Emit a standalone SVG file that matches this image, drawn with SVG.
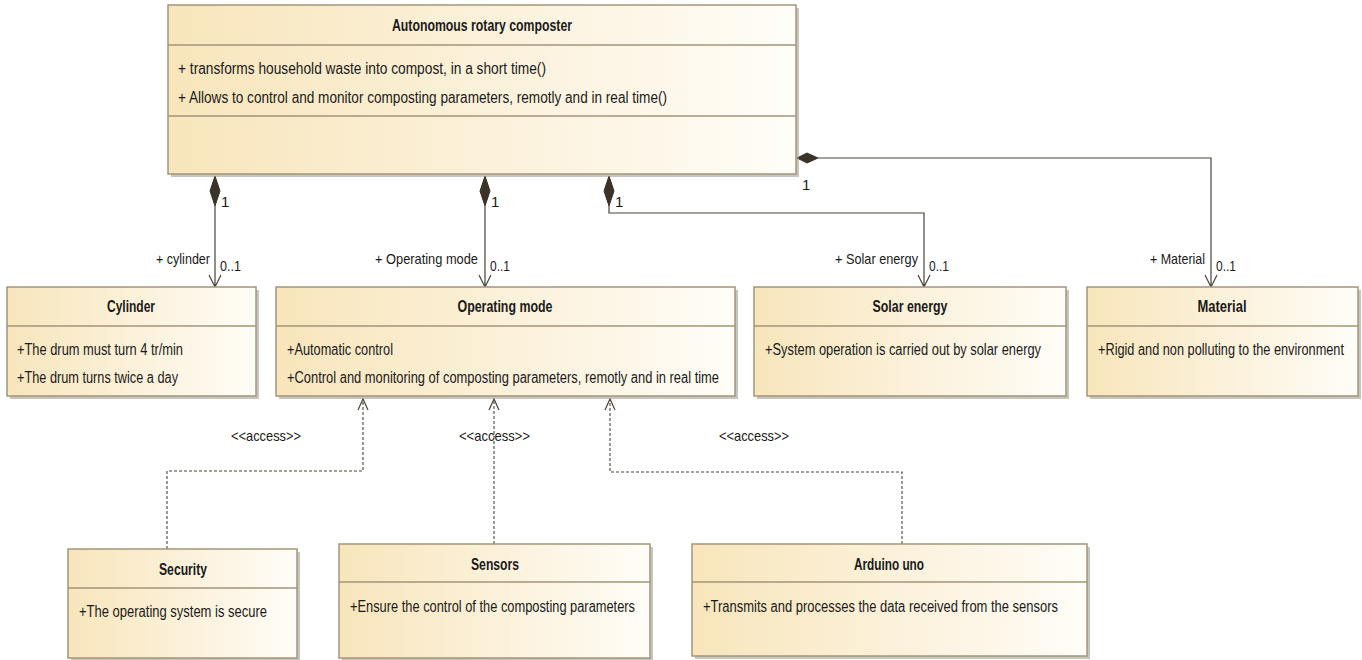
<svg xmlns="http://www.w3.org/2000/svg" width="1362" height="660" viewBox="0 0 1362 660">
<style>
text{font-family:"Liberation Sans Narrow","Liberation Sans",Arial,sans-serif;fill:#1a1a1a;font-size:16px}
.t{font-weight:bold;text-anchor:middle}
.box{fill:url(#g);stroke:#a3957a;stroke-width:1.5}
.sh{fill:#9a9488;opacity:0.55}
.div{stroke:#a3957a;stroke-width:1.5}
.ln{fill:none;stroke:#4a4337;stroke-width:1.2}
.dl{fill:none;stroke:#4a4337;stroke-width:1.1;stroke-dasharray:3,2}
.dia{fill:#3b3327;stroke:#3b3327}
.lbl{font-size:15px}
</style>
<defs>
<linearGradient id="g" x1="0" y1="0" x2="1" y2="0">
<stop offset="0" stop-color="#f8e5bb"/>
<stop offset="1" stop-color="#fffdf8"/>
</linearGradient>
</defs>
<rect width="1362" height="660" fill="#ffffff"/>

<g id="connectors">
<path class="ln" d="M215,206 V287 M209,275 L215,287 L221,275"/>
<path class="dia" d="M215,176 L220,191 L215,206 L210,191 Z"/>
<path class="ln" d="M485,206 V287 M479,275 L485,287 L491,275"/>
<path class="dia" d="M485,176 L490,191 L485,206 L480,191 Z"/>
<path class="ln" d="M609,206 V213 H924 V287 M918,275 L924,287 L930,275"/>
<path class="dia" d="M609,176 L614,191 L609,206 L604,191 Z"/>
<path class="ln" d="M818,158 H1211 V287 M1205,275 L1211,287 L1217,275"/>
<path class="dia" d="M797,158 L807,153 L818,158 L807,163 Z"/>
<path class="dl" d="M167,549 V471 H363 V399"/>
<path class="ln" d="M358,410 L363,399 L368,410"/>
<path class="dl" d="M494,544 V399"/>
<path class="ln" d="M489,410 L494,399 L499,410"/>
<path class="dl" d="M902,544 V472 H610 V399"/>
<path class="ln" d="M605,410 L610,399 L615,410"/>
<text class="lbl" x="221" y="207">1</text>
<text class="lbl" x="156" y="264" textLength="54" lengthAdjust="spacingAndGlyphs">+ cylinder</text>
<text class="lbl" x="220" y="271" textLength="21" lengthAdjust="spacingAndGlyphs">0..1</text>
<text class="lbl" x="491" y="207">1</text>
<text class="lbl" x="375" y="264" textLength="103" lengthAdjust="spacingAndGlyphs">+ Operating mode</text>
<text class="lbl" x="490" y="271" textLength="20" lengthAdjust="spacingAndGlyphs">0..1</text>
<text class="lbl" x="615" y="207">1</text>
<text class="lbl" x="835" y="264" textLength="83" lengthAdjust="spacingAndGlyphs">+ Solar energy</text>
<text class="lbl" x="929" y="271" textLength="20" lengthAdjust="spacingAndGlyphs">0..1</text>
<text class="lbl" x="802" y="190">1</text>
<text class="lbl" x="1150" y="264" textLength="55" lengthAdjust="spacingAndGlyphs">+ Material</text>
<text class="lbl" x="1216" y="271" textLength="20" lengthAdjust="spacingAndGlyphs">0..1</text>
<text class="lbl" x="231" y="441" textLength="70" lengthAdjust="spacingAndGlyphs">&lt;&lt;access&gt;&gt;</text>
<text class="lbl" x="459" y="441" textLength="71" lengthAdjust="spacingAndGlyphs">&lt;&lt;access&gt;&gt;</text>
<text class="lbl" x="719" y="441" textLength="70" lengthAdjust="spacingAndGlyphs">&lt;&lt;access&gt;&gt;</text>
</g>

<g id="composter">
<rect class="sh" x="171" y="8" width="628" height="169"/>
<rect class="box" x="168" y="5" width="628" height="169"/>
<line class="div" x1="168" y1="45" x2="796" y2="45"/>
<line class="div" x1="168" y1="116" x2="796" y2="116"/>
<text class="t" x="482" y="31" textLength="180" lengthAdjust="spacingAndGlyphs">Autonomous rotary composter</text>
<text x="178" y="74" textLength="368" lengthAdjust="spacingAndGlyphs">+ transforms household waste into compost, in a short time()</text>
<text x="178" y="103" textLength="489" lengthAdjust="spacingAndGlyphs">+ Allows to control and monitor composting parameters, remotly and in real time()</text>
</g>

<g id="cylinder">
<rect class="sh" x="10" y="290" width="249" height="109"/>
<rect class="box" x="7" y="287" width="249" height="109"/>
<line class="div" x1="7" y1="326" x2="256" y2="326"/>
<text class="t" x="131" y="312" textLength="48" lengthAdjust="spacingAndGlyphs">Cylinder</text>
<text x="17" y="355" textLength="166" lengthAdjust="spacingAndGlyphs">+The drum must turn 4 tr/min</text>
<text x="17" y="383" textLength="161" lengthAdjust="spacingAndGlyphs">+The drum turns twice a day</text>
</g>

<g id="operating-mode">
<rect class="sh" x="279" y="290" width="459" height="109"/>
<rect class="box" x="276" y="287" width="459" height="109"/>
<line class="div" x1="276" y1="326" x2="735" y2="326"/>
<text class="t" x="505" y="312" textLength="95" lengthAdjust="spacingAndGlyphs">Operating mode</text>
<text x="287" y="355" textLength="106" lengthAdjust="spacingAndGlyphs">+Automatic control</text>
<text x="287" y="383" textLength="432" lengthAdjust="spacingAndGlyphs">+Control and monitoring of composting parameters, remotly and in real time</text>
</g>

<g id="solar-energy">
<rect class="sh" x="757" y="290" width="312" height="109"/>
<rect class="box" x="754" y="287" width="312" height="109"/>
<line class="div" x1="754" y1="326" x2="1066" y2="326"/>
<text class="t" x="910" y="312" textLength="75" lengthAdjust="spacingAndGlyphs">Solar energy</text>
<text x="765" y="355" textLength="276" lengthAdjust="spacingAndGlyphs">+System operation is carried out by solar energy</text>
</g>

<g id="material">
<rect class="sh" x="1090" y="290" width="271" height="109"/>
<rect class="box" x="1087" y="287" width="271" height="109"/>
<line class="div" x1="1087" y1="326" x2="1358" y2="326"/>
<text class="t" x="1222" y="312" textLength="49" lengthAdjust="spacingAndGlyphs">Material</text>
<text x="1098" y="355" textLength="246" lengthAdjust="spacingAndGlyphs">+Rigid and non polluting to the environment</text>
</g>

<g id="security">
<rect class="sh" x="71" y="552" width="229" height="108"/>
<rect class="box" x="68" y="549" width="229" height="109"/>
<line class="div" x1="68" y1="588" x2="297" y2="588"/>
<text class="t" x="183" y="575" textLength="48" lengthAdjust="spacingAndGlyphs">Security</text>
<text x="79" y="617" textLength="188" lengthAdjust="spacingAndGlyphs">+The operating system is secure</text>
</g>

<g id="sensors">
<rect class="sh" x="342" y="547" width="311" height="113"/>
<rect class="box" x="339" y="544" width="311" height="114"/>
<line class="div" x1="339" y1="582" x2="650" y2="582"/>
<text class="t" x="495" y="570" textLength="48" lengthAdjust="spacingAndGlyphs">Sensors</text>
<text x="350" y="612" textLength="285" lengthAdjust="spacingAndGlyphs">+Ensure the control of the composting parameters</text>
</g>

<g id="arduino-uno">
<rect class="sh" x="695" y="547" width="395" height="112"/>
<rect class="box" x="692" y="544" width="395" height="112"/>
<line class="div" x1="692" y1="582" x2="1087" y2="582"/>
<text class="t" x="889" y="570" textLength="70" lengthAdjust="spacingAndGlyphs">Arduino uno</text>
<text x="703" y="612" textLength="355" lengthAdjust="spacingAndGlyphs">+Transmits and processes the data received from the sensors</text>
</g>
</svg>
